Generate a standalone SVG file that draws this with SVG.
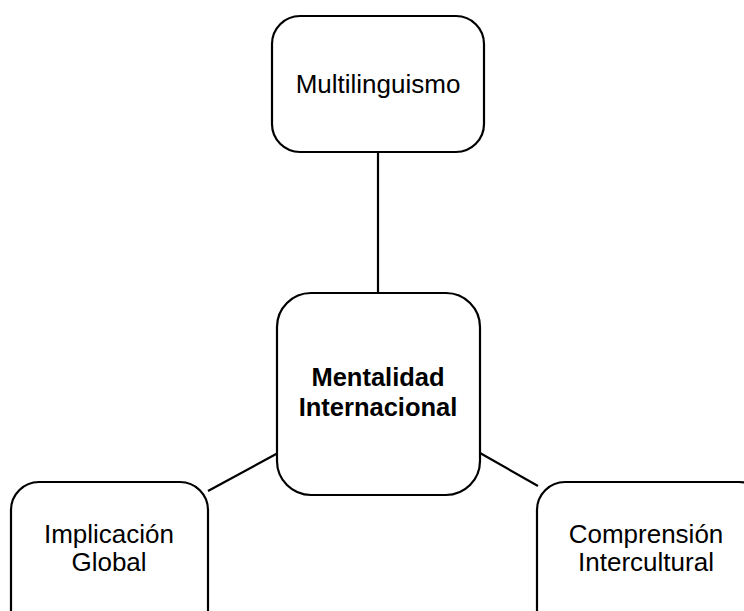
<svg xmlns="http://www.w3.org/2000/svg" width="744" height="611" viewBox="0 0 744 611">
  <style>
    .box { fill: #ffffff; stroke: #000000; stroke-width: 2.2; }
    .link { stroke: #000000; stroke-width: 2.2; fill: none; }
    .label { font-family: "Liberation Sans", Arial, sans-serif; font-size: 26px; fill: #000000; text-anchor: middle; }
    .bold { font-weight: bold; font-size: 25.5px; }
  </style>
  <rect width="744" height="611" fill="#ffffff"/>
  <g id="connectors">
    <line class="link" x1="378" y1="152" x2="378" y2="294"/>
    <line class="link" x1="208" y1="491" x2="278" y2="453"/>
    <line class="link" x1="480" y1="453" x2="538" y2="486"/>
  </g>
  <g id="node-multilinguismo">
    <rect class="box" x="272" y="16" width="212" height="136" rx="28"/>
    <text class="label" x="378" y="93">Multilinguismo</text>
  </g>
  <g id="node-mentalidad">
    <rect class="box" x="277" y="293" width="203" height="202" rx="34"/>
    <text class="label bold" x="378" y="386">Mentalidad</text>
    <text class="label bold" x="378" y="416">Internacional</text>
  </g>
  <g id="node-implicacion">
    <rect class="box" x="11" y="482" width="197" height="160" rx="28"/>
    <text class="label" x="109" y="543">Implicación</text>
    <text class="label" x="109" y="571">Global</text>
  </g>
  <g id="node-comprension">
    <rect class="box" x="537" y="482" width="230" height="160" rx="28"/>
    <text class="label" x="646" y="543">Comprensión</text>
    <text class="label" x="646" y="571">Intercultural</text>
  </g>
</svg>
